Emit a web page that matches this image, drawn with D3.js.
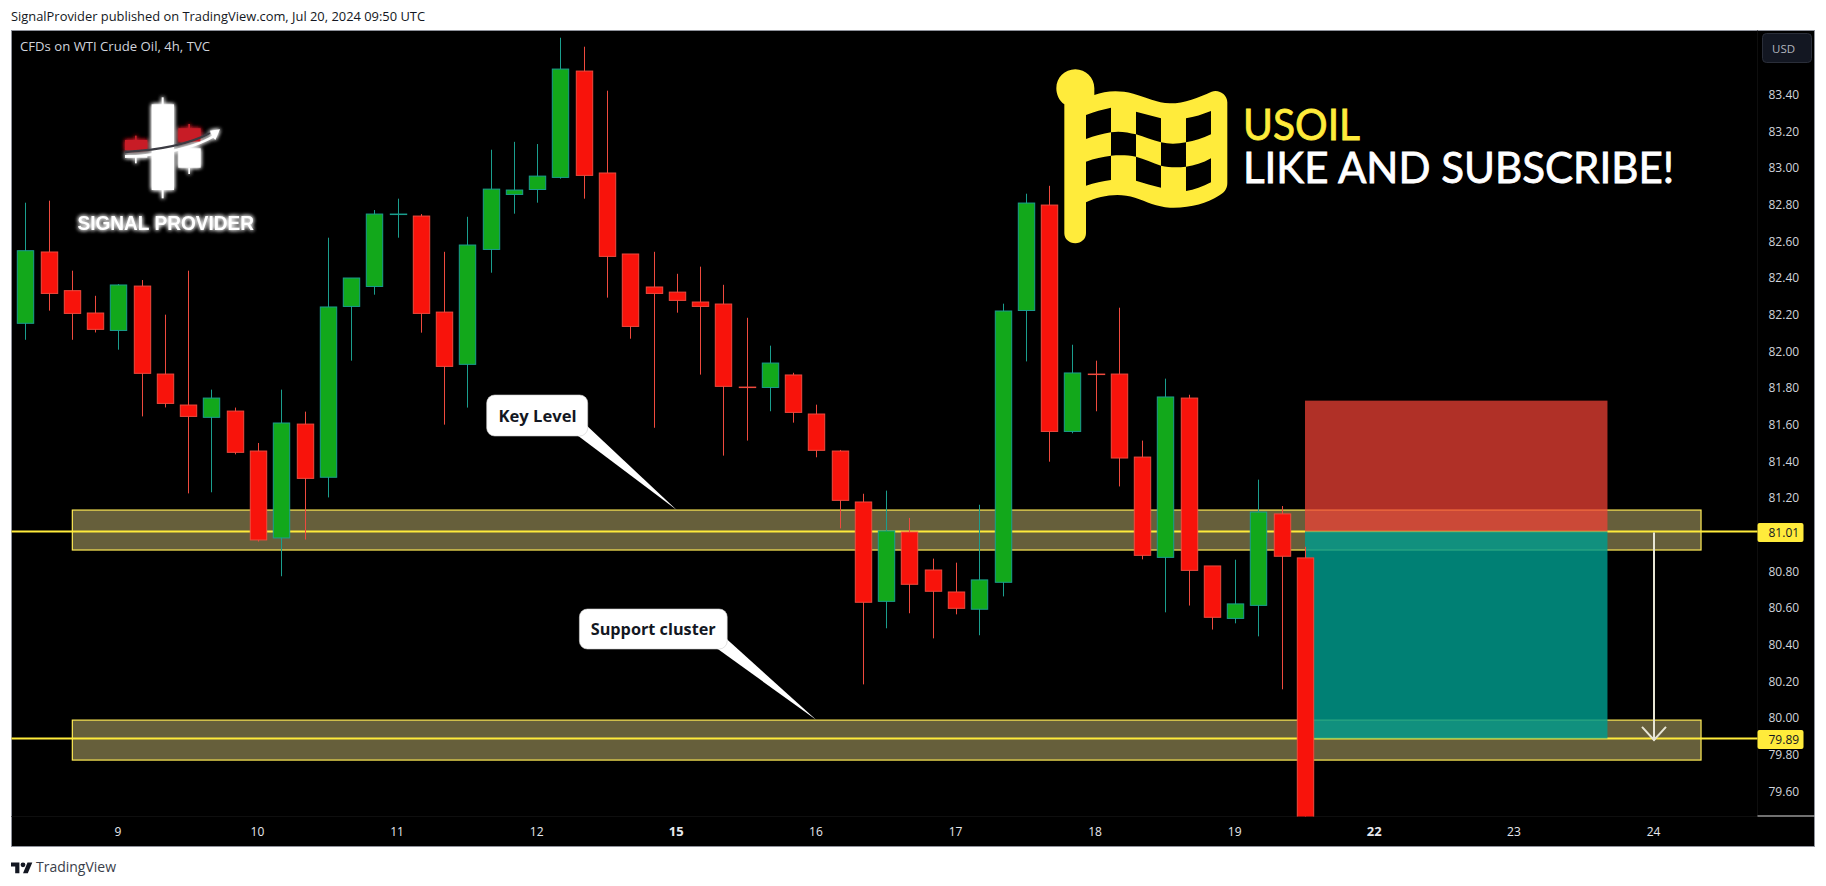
<!DOCTYPE html>
<html><head><meta charset="utf-8">
<script src="https://cdnjs.cloudflare.com/ajax/libs/d3/7.8.5/d3.min.js"></script>
<style>
html,body{margin:0;padding:0;background:#fff;overflow:hidden}
svg{display:block}
text{font-family:"Open Sans",sans-serif}
</style></head><body>
<svg id="c" width="1826" height="886"></svg>
<script>
// ---- data ----
const candleOpen=[82.149,82.538,82.327,82.205,82.110,82.352,81.872,81.703,81.636,81.670,81.452,80.978,81.599,81.309,82.241,82.350,82.743,82.734,82.210,81.925,82.552,82.852,82.879,82.945,83.525,82.969,82.527,82.347,82.319,82.265,82.254,81.801,81.799,81.867,81.654,81.452,81.174,80.632,81.010,80.803,80.683,80.589,80.736,82.219,82.794,81.559,81.872,81.872,81.419,80.872,81.741,80.825,80.539,80.610,81.109,80.869];
const candleHigh=[82.807,82.818,82.436,82.299,82.363,82.385,82.196,82.436,81.787,81.689,81.496,81.787,81.667,82.616,82.396,82.767,82.829,82.745,82.539,82.730,83.096,83.139,83.127,83.707,83.658,83.418,82.527,82.539,82.419,82.458,82.359,82.179,82.027,81.879,81.705,81.458,81.219,81.236,81.087,80.865,80.843,81.159,82.256,82.856,82.899,82.032,81.945,82.234,81.509,81.847,81.759,80.825,80.859,81.296,81.152,80.930];
const candleLow=[82.059,82.218,82.059,82.099,82.005,81.641,81.690,81.221,81.227,81.434,80.958,80.769,80.969,81.199,81.945,82.305,82.616,82.098,81.596,81.689,82.425,82.747,82.807,82.938,82.829,82.289,82.065,81.579,82.207,81.869,81.427,81.509,81.669,81.607,81.418,81.030,80.179,80.485,80.567,80.430,80.561,80.447,80.659,81.941,81.394,81.549,81.669,81.259,80.861,80.572,80.609,80.478,80.512,80.441,80.152,79.45];
const candleClose=[82.545,82.312,82.203,82.116,82.358,81.876,81.712,81.641,81.741,81.445,80.967,81.605,81.303,82.238,82.396,82.745,82.745,82.203,81.914,82.576,82.881,82.876,82.952,83.536,82.956,82.514,82.132,82.312,82.274,82.241,81.805,81.799,81.932,81.663,81.456,81.183,80.627,81.016,80.725,80.687,80.594,80.749,82.216,82.805,81.559,81.878,81.870,81.414,80.883,81.747,80.801,80.545,80.618,81.119,80.878,79.45];
const priceTicks=[83.4,83.2,83.0,82.8,82.6,82.4,82.2,82.0,81.8,81.6,81.4,81.2,80.8,80.6,80.4,80.2,80.0,79.8,79.6];
const dayIndex=[4,10,16,22,28,34,40,46,52,58,64,70];
const dayLabels=["9","10","11","12","15","16","17","18","19","22","23","24"];
const boldDays=["15","22"];
const priceLines=[81.013,79.884];
const priceLineLabels=["81.01","79.89"];
const zoneTops=[81.130,79.984];
const zoneBottoms=[80.912,79.766];
const zoneFrom=2, zoneTo=72;
const toolFrom=55, toolTo=68;
const stopPrice=81.727, entryPrice=81.013, targetPrice=79.884;
const arrowIndex=70;
const calloutTexts=["Key Level","Support cluster"];
const calloutTipIndex=[28,34];

// ---- frame ----
const PL=11.5,PR=1814.5,PT=30.5,PB=846.5,AX=1757.5,TY=816.5;
const svg=d3.select("#c");
const x=d3.scaleLinear().domain([0,70]).range([25.3,1654]);
const y=d3.scaleLinear().domain([83.4,79.6]).range([94,790.5]);
const bodyW=16.4;

svg.append("rect").attr("x",PL).attr("y",PT).attr("width",PR-PL).attr("height",PB-PT).attr("fill","#000").attr("stroke","#8f929b").attr("stroke-width",1);
const defs=svg.append("defs");
defs.append("clipPath").attr("id","pane").append("rect").attr("x",PL).attr("y",PT).attr("width",AX-PL).attr("height",TY-PT);
const glow=defs.append("filter").attr("id","glow").attr("x","-30%").attr("y","-30%").attr("width","160%").attr("height","160%");
glow.append("feGaussianBlur").attr("stdDeviation",2).attr("result","b");
const fm=glow.append("feMerge");fm.append("feMergeNode").attr("in","b");fm.append("feMergeNode").attr("in","b");fm.append("feMergeNode").attr("in","SourceGraphic");

svg.append("line").attr("x1",PL).attr("x2",AX).attr("y1",TY).attr("y2",TY).attr("stroke","#0e0e0e");
svg.append("line").attr("x1",AX).attr("x2",AX).attr("y1",PT).attr("y2",TY).attr("stroke","#0e0e0e");
svg.append("line").attr("x1",AX).attr("x2",PR).attr("y1",TY-0.5).attr("y2",TY-0.5).attr("stroke","#e0e0e0").attr("stroke-width",1);

const pane=svg.append("g").attr("clip-path","url(#pane)");

// zones
pane.append("g").selectAll("rect").data(zoneTops).join("rect")
 .attr("x",x(zoneFrom)+.5).attr("width",x(zoneTo)-x(zoneFrom))
 .attr("y",d=>y(d)).attr("height",(d,i)=>y(zoneBottoms[i])-y(d))
 .attr("fill","#665f3b").attr("stroke","#ffeb55").attr("stroke-width",1.2);
// price lines
svg.append("g").selectAll("line").data(priceLines).join("line")
 .attr("x1",PL).attr("x2",AX).attr("y1",d=>y(d)).attr("y2",d=>y(d))
 .attr("stroke","#ffeb3b").attr("stroke-width",2);
// position tool
const tool=svg.append("g");
tool.append("rect").attr("x",x(toolFrom)).attr("width",x(toolTo)-x(toolFrom)).attr("y",y(stopPrice)).attr("height",y(entryPrice)-y(stopPrice)).attr("fill","rgb(241,66,53)").attr("fill-opacity",.73);
tool.append("rect").attr("x",x(toolFrom)).attr("width",x(toolTo)-x(toolFrom)).attr("y",y(entryPrice)).attr("height",y(targetPrice)-y(entryPrice)).attr("fill","rgb(0,154,139)").attr("fill-opacity",.83);

// candles
const idx=d3.range(candleOpen.length);
const isUp=i=>candleClose[i]>=candleOpen[i];
const wick=i=>isUp(i)?"#1a9e8e":"#ef4a3e";
const cg=svg.append("g").attr("clip-path","url(#pane)");
cg.selectAll("line").data(idx).join("line")
 .attr("x1",i=>Math.round(x(i))+.5).attr("x2",i=>Math.round(x(i))+.5)
 .attr("y1",i=>y(candleHigh[i])).attr("y2",i=>y(candleLow[i]))
 .attr("stroke",wick);
cg.selectAll("rect").data(idx).join("rect")
 .attr("x",i=>Math.round(x(i))+.5-bodyW/2).attr("width",bodyW)
 .attr("y",i=>y(Math.max(candleOpen[i],candleClose[i])))
 .attr("height",i=>Math.max(.5,Math.abs(y(candleOpen[i])-y(candleClose[i]))))
 .attr("fill",i=>isUp(i)?"#12a81b":"#f8130b").attr("stroke",wick).attr("stroke-width",1);

// arrow
const ax=x(arrowIndex);
const arrow=svg.append("g").attr("fill","none").attr("stroke","#e8e6d4").attr("stroke-width",2);
arrow.append("line").attr("x1",ax).attr("x2",ax).attr("y1",y(entryPrice)+1).attr("y2",y(targetPrice)+2);
arrow.append("path").attr("d",d3.line()([[ax-12,y(targetPrice)-11.5],[ax,y(targetPrice)+1.5],[ax+12,y(targetPrice)-11.5]]));

// callouts
const callBoxes=[{x:486.7,y:395,w:101,h:41,tx:498.5,tw:78,base:421.5},{x:579.4,y:609,w:147.8,h:40,tx:590.7,tw:125,base:635}];
callBoxes.forEach((b,i)=>{
  const tip=[x(calloutTipIndex[i]),y(zoneTops[i])];
  const g=svg.append("g");
  g.append("path").attr("d",d3.line()([[b.x+b.w-9.4,b.y+b.h],[b.x+b.w,b.y+b.h-9.4],tip])+"Z").attr("fill","#fff");
  g.append("rect").attr("x",b.x).attr("y",b.y).attr("width",b.w).attr("height",b.h).attr("rx",8).attr("fill","#fff").attr("stroke","#cfcfcf").attr("stroke-width",.6);
  g.append("path").attr("d",d3.line()([[b.x+b.w-12,b.y+b.h-12],[b.x+b.w-9.4,b.y+b.h+.4],[b.x+b.w+.4,b.y+b.h-9.4],[b.x+b.w-9.4,b.y+b.h-9.4]])+"Z").attr("fill","#fff");
  g.append("text").attr("x",b.tx).attr("y",b.base).attr("font-size",15.5).attr("font-weight",700).attr("fill","#131722").attr("textLength",b.tw).attr("lengthAdjust","spacingAndGlyphs").text(calloutTexts[i]);
});

// flag (decorative)
const flag=svg.append("g").attr("transform","translate(1050,65) scale(.3333)");
flag.append("path").attr("fill-rule","evenodd").attr("fill","#ffeb3b").attr("d",
 "M43 118C28 108 19 90 19 70C19 38 44 13 76 13C107 13 133 38 133 70L133 90C165 78 205 74 250 86C290 97 320 113 360 115C405 115 445 98 485 80C508 72 532 90 532 112L532 355C532 372 522 385 505 393C470 415 420 430 360 428C320 425 290 410 255 398C205 382 150 392 108 412L108 505C108 522 94 535 76 535C57 535 43 522 43 505Z"+
 "M108 150C133 140 158 133 183 128L183 202C158 206 133 213 108 222Z"+
 "M258 140C283 146 308 154 333 160L333 232C308 226 283 216 258 208Z"+
 "M408 160C433 156 458 148 483 138L483 208C458 220 433 228 408 232Z"+
 "M183 202C208 197 233 202 258 208L258 275C233 270 208 270 183 272Z"+
 "M333 232C358 238 383 237 408 232L408 305C383 308 358 308 333 302Z"+
 "M108 290C133 280 158 276 183 272L183 345C158 348 133 354 108 362Z"+
 "M258 275C283 282 308 294 333 302L333 368C308 362 283 355 258 347Z"+
 "M408 305C433 302 458 294 483 280L483 352C458 365 433 375 408 378Z");
svg.append("text").attr("x",1243).attr("y",139.5).attr("font-size",42).attr("fill","#ffeb3b").attr("stroke","#ffeb3b").attr("stroke-width",.8).style("font-family","Lato").attr("textLength",117).attr("lengthAdjust","spacingAndGlyphs").text("USOIL");
svg.append("text").attr("x",1243).attr("y",183).attr("font-size",42).attr("fill","#fff").attr("stroke","#fff").attr("stroke-width",.8).style("font-family","Lato").attr("textLength",431).attr("lengthAdjust","spacingAndGlyphs").text("LIKE AND SUBSCRIBE!");

// signal provider logo (decorative)
const logo=svg.append("g").attr("filter","url(#glow)");
const L=logo.append("g").attr("transform","translate(110,85) scale(.3333)");
const R=(a,b,c,d,f)=>L.append("rect").attr("x",a).attr("y",b).attr("width",c).attr("height",d).attr("fill",f);
R(155,37,6,303,"#fff");R(125,58,67,257,"#fff");
R(75,152,5,15,"#c81e28");R(45,165,67,30,"#c81e28");R(75,212,5,23,"#fff");R(45,210,67,8,"#fff");
R(235,117,5,15,"#c81e28");R(205,130,67,40,"#c81e28");R(205,190,67,58,"#fff");R(235,248,5,19,"#fff");
L.append("path").attr("d","M45 201C130 196 230 182 300 144").attr("fill","none").attr("stroke","#3a3a42").attr("stroke-width",7);
L.append("path").attr("d","M45 212C130 208 240 190 306 152L300 137L330 133L316 165L310 158C250 195 140 216 45 218Z").attr("fill","#fff");
svg.append("text").attr("x",77.5).attr("y",230).attr("font-size",19.6).attr("font-weight",700).attr("fill","#fff").attr("filter","url(#glow)").style("font-family","Liberation Sans").attr("textLength",176.5).attr("lengthAdjust","spacingAndGlyphs").text("SIGNAL PROVIDER");

// axes
const priceAxis=d3.axisRight(y).tickValues(priceTicks).tickFormat(d3.format(".2f")).tickSize(0).tickPadding(0);
const pa=svg.append("g").attr("transform",`translate(1768.5,0.8)`).call(priceAxis);
pa.select(".domain").remove();
pa.selectAll("text").attr("font-size",12).attr("fill","#d1d4dc").style("font-family","'Open Sans'");
const tx=d3.axisBottom(x).tickValues(dayIndex).tickFormat(d=>dayLabels[dayIndex.indexOf(d)]).tickSize(0).tickPadding(0);
const ta=svg.append("g").attr("transform","translate(-1,827)").call(tx);
ta.select(".domain").remove();
ta.selectAll("text").attr("font-size",d=>boldDays.includes(dayLabels[dayIndex.indexOf(d)])?13:12)
 .attr("font-weight",d=>boldDays.includes(dayLabels[dayIndex.indexOf(d)])?700:400).attr("fill","#e6e8ee").style("font-family","'Open Sans'");

// last price labels
const lab=svg.append("g").selectAll("g").data(priceLines).join("g");
lab.append("rect").attr("x",AX).attr("width",46).attr("y",d=>y(d)-8.5).attr("height",19).attr("rx",2).attr("fill","#ffeb3b");
lab.append("text").attr("x",1768.5).attr("y",d=>y(d)+5.5).attr("font-size",12).attr("fill","#131722").text((d,i)=>priceLineLabels[i]);

// USD button
svg.append("rect").attr("x",1762.5).attr("y",33.5).attr("width",49).attr("height",29).attr("rx",4).attr("fill","#131722").attr("stroke","#2a2e39");
svg.append("text").attr("x",1772).attr("y",52.5).attr("font-size",11.5).attr("fill","#b2b5be").text("USD");

// header / footer
svg.append("text").attr("x",11).attr("y",21).attr("font-size",12).attr("fill","#131722").attr("textLength",414).attr("lengthAdjust","spacingAndGlyphs").text("SignalProvider published on TradingView.com, Jul 20, 2024 09:50 UTC");
svg.append("text").attr("x",20).attr("y",50.5).attr("font-size",12).attr("fill","#d1d4dc").attr("textLength",190).attr("lengthAdjust","spacingAndGlyphs").text("CFDs on WTI Crude Oil, 4h, TVC");
const tv=svg.append("g").attr("transform","translate(11,860) scale(.6)").attr("fill","#131722");
tv.append("path").attr("d","M14 22H7V11H0V4h14v18zM28 22h-8l7.5-18h8L28 22z");
tv.append("circle").attr("cx",20).attr("cy",8).attr("r",4);
svg.append("text").attr("x",36).attr("y",871.7).attr("font-size",14).attr("fill","#3a3e4a").attr("textLength",80).attr("lengthAdjust","spacingAndGlyphs").text("TradingView");
</script>
</body></html>
